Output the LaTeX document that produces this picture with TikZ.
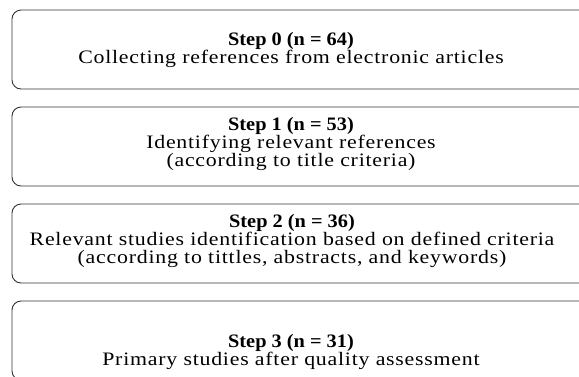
\documentclass[tikz,border=0pt]{standalone}
\usepackage{fontspec}
\setmainfont{Liberation Serif}[UprightFeatures={FakeStretch=1.15,LetterSpace=4},BoldFeatures={FakeStretch=1.07}]
\begin{document}
\begin{tikzpicture}[x=1pt,y=-1pt,
  stepbox/.style={draw=black!80, line width=0.9pt, rounded corners=9pt},
  steptext/.style={align=center, font=\fontsize{19}{18}\selectfont, inner sep=0pt}]
\useasboundingbox (0,0) rectangle (579,376);
\begin{scope}
\clip (0,0) rectangle (579,376);
\draw[stepbox] (12,10) rectangle (600,89);
\draw[stepbox] (12,107) rectangle (600,186);
\draw[stepbox] (12,204) rectangle (600,283);
\draw[stepbox] (12,301) rectangle (600,380);
\end{scope}
\node[steptext] (s0) at (291,50) {\textbf{Step 0 (n = 64)}\\Collecting references from electronic articles};
\node[steptext] (s1) at (291,144) {\textbf{Step 1 (n = 53)}\\Identifying relevant references\\(according to title criteria)};
\node[steptext] (s2) at (292,241) {\textbf{Step 2 (n = 36)}\\Relevant studies identification based on defined criteria\\(according to tittles, abstracts, and keywords)};
\node[steptext] (s3) at (291,351.5) {\textbf{Step 3 (n = 31)}\\Primary studies after quality assessment};
\end{tikzpicture}
\end{document}
